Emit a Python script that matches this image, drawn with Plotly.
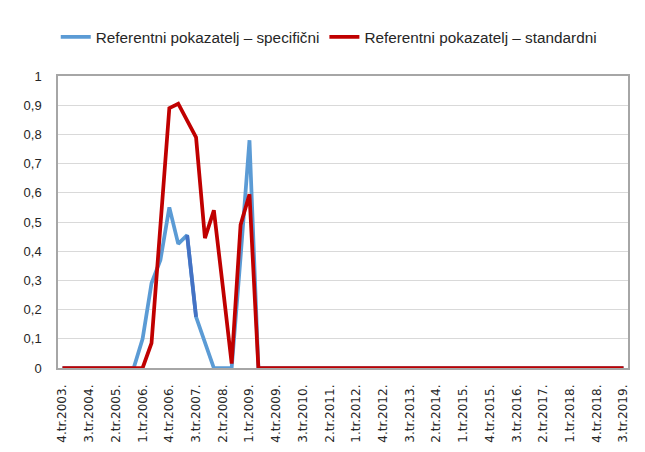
import plotly.graph_objects as go

# Quarter categories 4.tr.2003. .. 3.tr.2019.
quarters = []
for year in range(2003, 2020):
    for q in range(1, 5):
        if (year == 2003 and q < 4) or (year == 2019 and q > 3):
            continue
        quarters.append(f"{q}.tr.{year}.")

specificni = [0, 0, 0, 0, 0, 0, 0, 0, 0,
              0.10, 0.29, 0.37, 0.55, 0.425, 0.455, 0.175, 0.085,
              0, 0, 0, 0.38, 0.78] + [0] * 42

standardni = [0, 0, 0, 0, 0, 0, 0, 0, 0, 0,
              0.085, 0.49, 0.89, 0.905, 0.85, 0.79, 0.445, 0.54,
              0.28, 0.015, 0.49, 0.595] + [0] * 42

tick_labels = quarters[::3]
y_ticks = [0, 0.1, 0.2, 0.3, 0.4, 0.5, 0.6, 0.7, 0.8, 0.9, 1]

name_spec = "Referentni pokazatelj – specifični"
name_std = "Referentni pokazatelj – standardni"

fig = go.Figure()
fig.add_trace(go.Scatter(x=quarters, y=specificni, mode="lines", name=name_spec,
                         line=dict(color="#5B9BD5", width=3.75)))
# darker highlighted segment of the specific series
fig.add_trace(go.Scatter(x=quarters[14:16], y=specificni[14:16], mode="lines",
                         showlegend=False, hoverinfo="skip",
                         line=dict(color="#4472C4", width=3.75)))
fig.add_trace(go.Scatter(x=quarters, y=standardni, mode="lines", name=name_std,
                         line=dict(color="#C00000", width=3.75)))

fig.update_layout(
    width=637, height=436,
    margin=dict(l=50, r=17, t=62, b=76),
    paper_bgcolor="white",
    plot_bgcolor="white",
    separators=", ",
    font=dict(family="Liberation Sans", size=13, color="#262626"),
    legend=dict(orientation="h", x=0.475, xanchor="center", y=1.134, yanchor="middle",
                font=dict(family="Liberation Sans", size=15.3, color="#262626"),
                bgcolor="rgba(0,0,0,0)", itemwidth=30, tracegroupgap=0),
    showlegend=True,
)
fig.update_xaxes(type="category", categoryorder="array", categoryarray=quarters,
                 range=[-0.5, len(quarters) - 0.5], automargin=False,
                 tickmode="array", tickvals=tick_labels, ticktext=tick_labels,
                 tickangle=-90, tickfont=dict(family="DejaVu Sans", size=12, color="#262626"),
                 showgrid=False, showline=True, linecolor="#a6a6a6", linewidth=1.5,
                 mirror=True, ticks="", ticklen=0, ticklabelstandoff=10)
fig.update_yaxes(range=[0, 1], tickmode="array", tickvals=y_ticks, automargin=False,
                 tickfont=dict(family="Liberation Sans", size=13, color="#262626"),
                 showgrid=True, gridcolor="#d9d9d9", gridwidth=1,
                 showline=True, linecolor="#a6a6a6", linewidth=1.5, mirror=True,
                 zeroline=False, ticks="", ticklen=0, ticklabelstandoff=12)

fig.write_html("out.html")
